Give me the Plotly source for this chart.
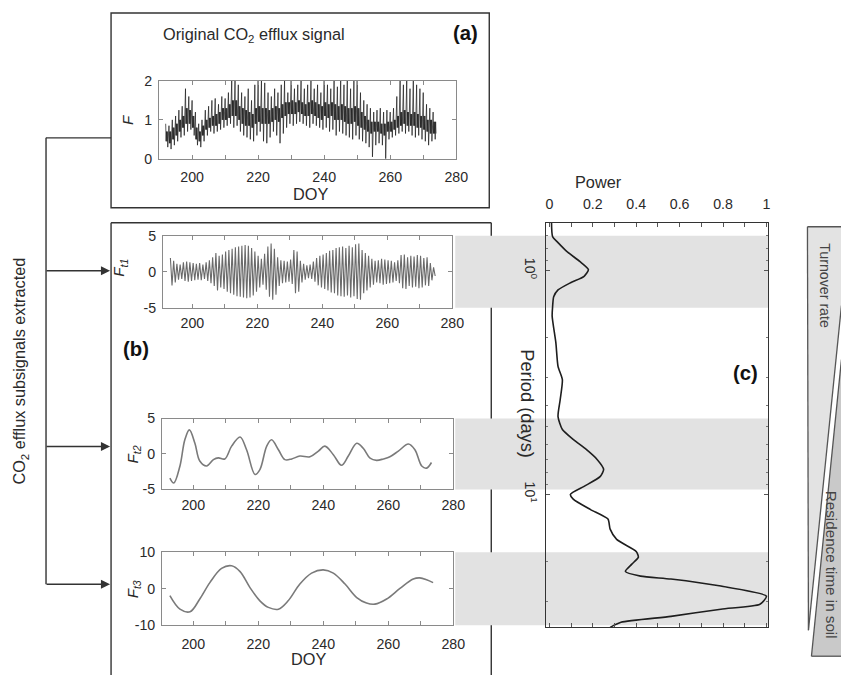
import plotly.graph_objects as go

# ---------------- data ----------------
# (a) original CO2 efflux signal: per-day spike maxima / minima and dense core band
a_days = list(range(192, 274))
a_peak = [0.9, 0.85, 1.0, 1.1, 1.25, 1.35, 1.8, 1.6, 1.5, 1.2,
          0.9, 1.0, 1.25, 1.35, 1.5, 1.55, 1.4, 1.6, 1.55, 1.7,
          2.0, 2.0, 1.9, 1.7, 1.6, 1.8, 1.5, 1.9, 2.0, 2.0,
          1.95, 1.7, 1.6, 1.8, 1.7, 1.9, 2.0, 1.7, 2.0, 1.8,
          1.9, 2.0, 1.8, 1.9, 2.0, 1.8, 1.9, 1.7, 2.0, 1.9,
          1.8, 2.0, 1.85, 2.0, 1.9, 2.0, 1.8, 2.0, 2.0, 1.7,
          1.5, 1.4, 1.3, 1.2, 1.25, 1.3, 1.2, 1.25, 1.2, 1.3,
          1.6, 2.0, 1.9, 2.0, 1.8, 2.0, 1.9, 1.8, 1.7, 1.4,
          1.3, 1.2]
a_trough = [0.3, 0.25, 0.35, 0.45, 0.55, 0.6, 0.7, 0.75, 0.6, 0.35,
            0.3, 0.45, 0.6, 0.7, 0.65, 0.7, 0.75, 0.8, 0.85, 0.9,
            0.8, 0.85, 0.7, 0.6, 0.55, 0.5, 0.45, 0.6, 0.7, 0.45,
            0.4, 0.55, 0.7, 0.6, 0.4, 0.65, 0.8, 0.9, 0.85, 0.9,
            0.95, 0.9, 0.85, 0.8, 0.9, 0.85, 0.8, 0.75, 0.8, 0.7,
            0.75, 0.6, 0.7, 0.65, 0.6, 0.55, 0.5, 0.6, 0.5, 0.45,
            0.4, 0.3, 0.05, 0.35, 0.4, 0.35, 0.0, 0.5, 0.55, 0.6,
            0.65, 0.7, 0.65, 0.7, 0.6, 0.55, 0.6, 0.5, 0.45, 0.35,
            0.45, 0.5]
a_core_hi = [0.7, 0.7, 0.8, 0.9, 1.0, 1.1, 1.3, 1.25, 1.1, 0.8,
             0.7, 0.85, 1.0, 1.05, 1.1, 1.15, 1.2, 1.3, 1.3, 1.4,
             1.5, 1.5, 1.35, 1.3, 1.25, 1.2, 1.15, 1.3, 1.35, 1.3,
             1.3, 1.25, 1.3, 1.35, 1.3, 1.4, 1.45, 1.45, 1.5, 1.45,
             1.5, 1.45, 1.4, 1.45, 1.5, 1.45, 1.4, 1.35, 1.45, 1.4,
             1.45, 1.4, 1.35, 1.4, 1.35, 1.3, 1.3, 1.35, 1.3, 1.2,
             1.1, 1.0, 0.95, 0.95, 0.95, 0.9, 0.9, 0.95, 0.95, 1.0,
             1.1, 1.2, 1.25, 1.2, 1.15, 1.2, 1.15, 1.1, 1.1, 1.0,
             1.0, 0.95]
a_core_lo = [0.45, 0.4, 0.5, 0.6, 0.7, 0.8, 0.9, 0.9, 0.8, 0.5,
             0.45, 0.6, 0.75, 0.8, 0.85, 0.85, 0.9, 1.0, 1.0, 1.05,
             1.1, 1.1, 1.0, 0.9, 0.85, 0.85, 0.8, 0.9, 0.95, 0.9,
             0.9, 0.9, 0.95, 1.0, 0.95, 1.05, 1.1, 1.15, 1.15, 1.15,
             1.2, 1.15, 1.1, 1.1, 1.15, 1.1, 1.05, 1.0, 1.1, 1.05,
             1.1, 1.0, 1.0, 1.0, 0.95, 0.9, 0.9, 0.95, 0.85, 0.8,
             0.75, 0.7, 0.65, 0.7, 0.7, 0.65, 0.6, 0.7, 0.7, 0.75,
             0.8, 0.85, 0.9, 0.85, 0.85, 0.85, 0.8, 0.8, 0.75, 0.7,
             0.65, 0.65]

# (b) F_t1: diurnal component, daily amplitude
t1_days = list(range(193, 275))
t1_amp = [1.9, 1.5, 1.1, 1.0, 1.3, 1.4, 1.3, 1.2, 1.1, 1.2,
          1.0, 1.3, 1.6, 2.0, 2.6, 2.2, 2.4, 2.8, 3.0, 3.2,
          3.4, 3.5, 3.6, 3.7, 3.6, 3.3, 2.8, 2.2, 1.8, 2.5,
          3.5, 3.9, 3.2, 2.0, 1.6, 1.5, 1.4, 1.7, 3.0, 2.8,
          1.5, 1.1, 0.9, 1.0, 1.4, 1.9, 2.2, 2.4, 2.6, 2.9,
          3.0, 3.3, 3.4, 3.5, 3.3, 3.6, 3.4, 3.8, 3.9, 3.0,
          2.6, 2.2, 1.8, 1.5, 1.6, 1.8, 1.7, 1.6, 1.5, 1.3,
          1.6, 2.3, 2.4, 2.0, 2.2, 2.1, 2.3, 2.2, 1.9, 2.0,
          1.2, 0.6]

# (b) F_t2: weekly-scale component
t2_doy = [192.8, 194.0, 195.9, 197.4, 198.8, 200.5, 202.0, 204.1, 206.2, 207.7,
          209.7, 211.8, 214.4, 216.4, 219.0, 220.5, 222.6, 224.1, 226.2, 228.2,
          230.3, 232.8, 235.9, 238.5, 240.5, 243.1, 245.6, 247.7, 250.3, 252.3,
          254.4, 256.4, 258.5, 260.5, 263.1, 266.2, 268.2, 270.3, 271.8, 273.3]
t2_val = [-3.4, -4.1, -1.7, 2.0, 3.4, 1.5, -1.0, -1.7, -0.8, -0.55,
          -0.7, 1.1, 2.4, 0.6, -2.9, -2.2, 1.1, 2.0, 0.6, -0.8,
          -0.7, -0.3, -0.4, 0.4, 1.1, -0.1, -1.6, -0.3, 1.5, 0.8,
          -0.6, -0.9, -0.7, -0.4, 0.4, 1.4, 0.6, -1.7, -2.0, -1.2]

# (b) F_t3: monthly-scale component
t3_doy = [192.8, 195.9, 199.0, 202.0, 205.1, 208.7, 211.8, 214.4, 217.4, 220.5,
          223.1, 226.2, 229.2, 232.8, 236.4, 240.0, 243.1, 246.7, 250.3, 253.3,
          255.9, 259.5, 263.6, 267.7, 269.7, 271.8, 273.8]
t3_val = [-1.9, -5.6, -6.3, -2.8, 1.7, 5.6, 6.3, 4.7, 0.4, -3.3,
          -5.1, -5.6, -3.3, 1.3, 4.3, 5.2, 4.3, 1.3, -2.4, -3.9,
          -4.2, -2.8, 0.1, 2.7, 3.0, 2.5, 1.7]

# (c) wavelet power vs period
period_days = [0.61, 0.705, 0.75, 0.82, 0.91, 0.99, 1.06, 1.13, 1.22, 1.31,
               1.45, 1.60, 2.10, 2.68, 3.07, 3.77, 4.49, 5.13, 5.68, 6.30,
               6.98, 7.73, 8.31, 9.21, 10.0, 10.5, 11.7, 12.9, 14.3, 15.9,
               18.0, 19.1, 20.5, 22.1, 23.2, 23.9, 25.7, 28.5, 31.0, 32.6,
               35.1, 37.3, 39.3]
power = [0.01, 0.015, 0.04, 0.08, 0.14, 0.18, 0.16, 0.10, 0.04, 0.02,
         0.015, 0.013, 0.03, 0.04, 0.06, 0.05, 0.04, 0.06, 0.11, 0.17,
         0.22, 0.25, 0.235, 0.16, 0.097, 0.11, 0.19, 0.27, 0.28, 0.31,
         0.40, 0.41, 0.38, 0.35, 0.42, 0.56, 0.79, 1.0, 0.97, 0.79,
         0.56, 0.33, 0.28]

doy_ticks = [200, 210, 220, 230, 240, 250, 260, 270, 280]
doy_text = ["200", "", "220", "", "240", "", "260", "", "280"]
power_ticks = [0, 0.1, 0.2, 0.3, 0.4, 0.5, 0.6, 0.7, 0.8, 0.9, 1.0]
power_text = ["0", "", "0.2", "", "0.4", "", "0.6", "", "0.8", "", "1"]

# ---------------- page geometry ----------------
# The photographed page shows the figure slightly shrunk and shifted down;
# layout positions below are given in photo pixels and mapped back here.
W, H = 841, 690
SX, SY = 0.984, 0.978
OX, OY = 1.0, 8.0

def fx(p):
    return ((p - OX) / SX) / W

def fy(p):
    return 1 - ((p - OY) / SY) / H

def fs(s):
    return round(s / SX, 1)

FONT = "Liberation Sans, Arial, Helvetica, sans-serif"
TXT = "#2a2a2a"
AX = "#8a8a8a"
TICKSZ = fs(14)

ax_x, ax_y = [], []
for d, pk, clo, chi, tr in zip(a_days, a_peak, a_core_lo, a_core_hi, a_trough):
    ax_x += [d + k / 8 for k in range(8)]
    ax_y += [pk, clo, chi, clo, chi, tr, chi, clo]

t1_x, t1_y = [], []
for d, a in zip(t1_days, t1_amp):
    t1_x += [d + 0.25, d + 0.75]
    t1_y += [a, -a]

fig = go.Figure()
fig.add_trace(go.Scatter(x=ax_x, y=ax_y, mode="lines", xaxis="x", yaxis="y",
                         line=dict(color="#1a1a1a", width=0.7), hoverinfo="skip"))
fig.add_trace(go.Scatter(x=t1_x, y=t1_y, mode="lines", xaxis="x2", yaxis="y2",
                         line=dict(color="#6a6a6a", width=1.1), hoverinfo="skip"))
fig.add_trace(go.Scatter(x=t2_doy, y=t2_val, mode="lines", xaxis="x3", yaxis="y3",
                         line=dict(color="#7a7a7a", width=1.6, shape="spline"), hoverinfo="skip"))
fig.add_trace(go.Scatter(x=t3_doy, y=t3_val, mode="lines", xaxis="x4", yaxis="y4",
                         line=dict(color="#7a7a7a", width=1.6, shape="spline"), hoverinfo="skip"))
fig.add_trace(go.Scatter(x=power, y=period_days, mode="lines", xaxis="x5", yaxis="y5",
                         line=dict(color="#1e1e1e", width=1.6, shape="spline", smoothing=0.6),
                         hoverinfo="skip"))

def xax(dom, rng, anchor, standoff=4):
    return dict(domain=[fx(dom[0]), fx(dom[1])], range=rng, anchor=anchor,
                showline=True, linecolor=AX, linewidth=1, mirror="allticks",
                ticks="inside", ticklen=4, tickcolor=AX, showgrid=False, zeroline=False,
                tickvals=doy_ticks, ticktext=doy_text, ticklabelstandoff=standoff,
                tickfont=dict(family=FONT, size=TICKSZ, color=TXT))

def yax(dom, rng, vals, anchor):
    return dict(domain=[fy(dom[1]), fy(dom[0])], range=rng, anchor=anchor,
                showline=True, linecolor=AX, linewidth=1, mirror="allticks",
                ticks="inside", ticklen=4, tickcolor=AX, showgrid=False, zeroline=False,
                tickvals=vals, ticktext=[str(v) for v in vals], ticklabelstandoff=3,
                tickfont=dict(family=FONT, size=TICKSZ, color=TXT))

layout = dict(
    width=W, height=H, margin=dict(l=0, r=0, t=0, b=0),
    paper_bgcolor="white", plot_bgcolor="rgba(0,0,0,0)", showlegend=False,
    font=dict(family=FONT, color=TXT),
    xaxis=xax((159, 456), [190, 280], "y", 5),
    yaxis=yax((81, 159), [0, 2], [0, 1, 2], "x"),
    xaxis2=xax((163, 452), [191, 280], "y2", 2),
    yaxis2=yax((236, 308), [-5, 5], [-5, 0, 5], "x2"),
    xaxis3=xax((162, 453), [190.4, 280], "y3", 3),
    yaxis3=yax((419, 490), [-5, 5], [-5, 0, 5], "x3"),
    xaxis4=xax((162, 453), [190.4, 280], "y4", 6),
    yaxis4=yax((553, 626), [-10, 10], [-10, 0, 10], "x4"),
    xaxis5=dict(domain=[fx(546), fx(768)], range=[-0.014, 1.009], anchor="y5", side="top",
                showline=True, linecolor="#333", linewidth=1.2, mirror="allticks",
                ticks="inside", ticklen=4, tickcolor="#555", showgrid=False, zeroline=False,
                tickvals=power_ticks, ticktext=power_text, ticklabelstandoff=7,
                tickfont=dict(family=FONT, size=TICKSZ, color=TXT)),
    yaxis5=dict(domain=[fy(628), fy(223)], type="log", range=[1.594, -0.214], anchor="x5",
                showline=True, linecolor="#333", linewidth=1.2, mirror="allticks",
                ticks="inside", ticklen=4, tickcolor="#555", showgrid=False, zeroline=False,
                tickvals=[1, 10], ticktext=["10<sup>0</sup>", "10<sup>1</sup>"], tickangle=90,
                ticklabelstandoff=3,
                minor=dict(tickvals=[0.7, 0.8, 0.9, 2, 3, 4, 5, 6, 7, 8, 9, 20, 30],
                           ticks="inside", ticklen=2, tickcolor="#777", showgrid=False),
                tickfont=dict(family=FONT, size=TICKSZ, color=TXT)),
)
fig.update_layout(**layout)

shapes = []
BOX = dict(color="#333333", width=1.4)

def seg(x0, y0, x1, y1, line=BOX):
    shapes.append(dict(type="line", xref="paper", yref="paper", layer="below",
                       x0=fx(x0), x1=fx(x1), y0=fy(y0), y1=fy(y1), line=line))

# panel (a) frame
shapes.append(dict(type="rect", xref="paper", yref="paper", layer="below",
                   x0=fx(111), x1=fx(489), y0=fy(208), y1=fy(13), line=BOX))
# panel (b) frame, open at the bottom of the page
seg(111, 223, 491, 223)
seg(111, 223, 111, 680)
seg(491, 223, 491, 680)
# grey bands linking the subsignals to the spectrum
for (top, bot) in [(236, 308), (419, 490), (553, 626)]:
    shapes.append(dict(type="rect", xref="paper", yref="paper", layer="below",
                       x0=fx(455), x1=fx(768), y0=fy(bot), y1=fy(top),
                       fillcolor="#e2e2e2", line=dict(width=0)))
# left bracket
seg(46, 138, 46, 585)
seg(46, 138, 111, 138)

# triangles (turnover rate / residence time), cut at the page edge
def path(pts):
    return "M " + " L ".join(f"{fx(x)},{fy(y)}" for x, y in pts) + " Z"

TRI = dict(color="#555555", width=1.3)
shapes.append(dict(type="path", xref="paper", yref="paper",
                   path=path([(807, 227), (841, 227), (841, 306), (808, 631)]),
                   fillcolor="#e3e3e3", line=dict(width=0)))
shapes.append(dict(type="path", xref="paper", yref="paper",
                   path=path([(811, 657), (841, 360), (841, 657)]),
                   fillcolor="#c9c9c9", line=dict(width=0)))
for (x0, y0, x1, y1) in [(807, 227, 841, 227), (807, 227, 808, 631), (808, 631, 841, 306),
                         (811, 657, 841, 657), (811, 657, 841, 360)]:
    shapes.append(dict(type="line", xref="paper", yref="paper",
                       x0=fx(x0), x1=fx(x1), y0=fy(y0), y1=fy(y1), line=TRI))
fig.update_layout(shapes=shapes)

ann = []
def text(x, y, t, size=13, angle=0, color=TXT):
    ann.append(dict(x=fx(x), y=fy(y), xref="paper", yref="paper", text=t, showarrow=False,
                    textangle=angle, xanchor="center", yanchor="middle",
                    font=dict(family=FONT, size=fs(size), color=color)))

text(254, 35, "Original CO<sub>2</sub> efflux signal", 16)
text(465, 33, "<b>(a)</b>", 20, color="#111")
text(310, 194, "DOY", 16)
text(128, 120, "<i>F</i>", 15, -90)
text(120, 268, "<i>F</i><sub><i>t1</i></sub>", 15, -90)
text(133, 455, "<i>F</i><sub><i>t2</i></sub>", 15, -90)
text(133, 590, "<i>F</i><sub><i>t3</i></sub>", 15, -90)
text(136, 349, "<b>(b)</b>", 20, color="#111")
text(308, 660, "DOY", 16)
text(20, 372, "CO<sub>2</sub> efflux subsignals extracted", 16, -90)
text(598, 182, "Power", 16)
text(527, 404, "Period (days)", 18, 90)
text(745, 373, "<b>(c)</b>", 20, color="#111")
text(825, 286, "Turnover rate", 14, 90, color="#444")
text(831, 566, "Residence time in soil", 15, 90, color="#444")

# arrows into the subsignal panels
for yy in [271, 447, 585]:
    ann.append(dict(x=fx(110), y=fy(yy), ax=-65, ay=0, xref="paper", yref="paper",
                    axref="pixel", ayref="pixel", text="", showarrow=True,
                    arrowhead=2, arrowsize=1.3, arrowwidth=1.4, arrowcolor="#333333"))

fig.update_layout(annotations=ann)
fig.write_html("out.html")
